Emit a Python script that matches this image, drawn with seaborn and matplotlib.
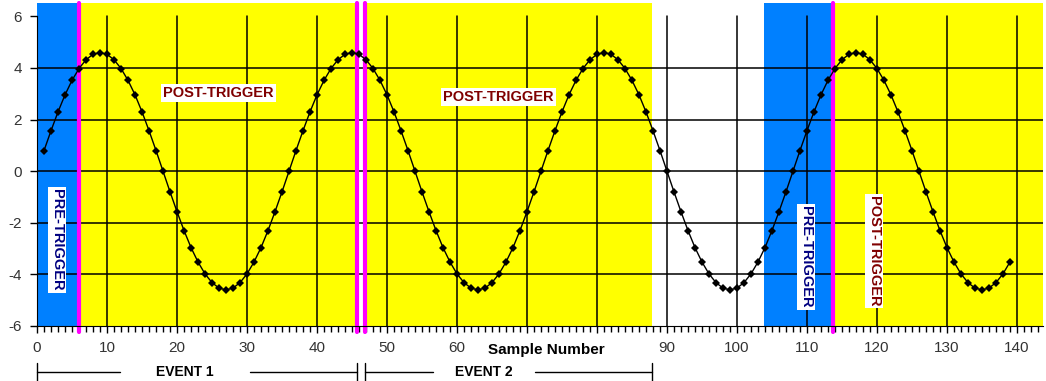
import matplotlib
matplotlib.use("Agg")
import matplotlib.pyplot as plt
import seaborn as sns
import pandas as pd

# ---------------- data ----------------
samples = list(range(1, 140))
values = [
    0.80, 1.57, 2.30, 2.96, 3.52, 3.98, 4.32, 4.53, 4.60, 4.53, 4.32, 3.98,
    3.52, 2.96, 2.30, 1.57, 0.80, 0.00, -0.80, -1.57, -2.30, -2.96, -3.52, -3.98,
    -4.32, -4.53, -4.60, -4.53, -4.32, -3.98, -3.52, -2.96, -2.30, -1.57, -0.80, 0.00,
    0.80, 1.57, 2.30, 2.96, 3.52, 3.98, 4.32, 4.53, 4.60, 4.53, 4.32, 3.98,
    3.52, 2.96, 2.30, 1.57, 0.80, 0.00, -0.80, -1.57, -2.30, -2.96, -3.52, -3.98,
    -4.32, -4.53, -4.60, -4.53, -4.32, -3.98, -3.52, -2.96, -2.30, -1.57, -0.80, 0.00,
    0.80, 1.57, 2.30, 2.96, 3.52, 3.98, 4.32, 4.53, 4.60, 4.53, 4.32, 3.98,
    3.52, 2.96, 2.30, 1.57, 0.80, 0.00, -0.80, -1.57, -2.30, -2.96, -3.52, -3.98,
    -4.32, -4.53, -4.60, -4.53, -4.32, -3.98, -3.52, -2.96, -2.30, -1.57, -0.80, 0.00,
    0.80, 1.57, 2.30, 2.96, 3.52, 3.98, 4.32, 4.53, 4.60, 4.53, 4.32, 3.98,
    3.52, 2.96, 2.30, 1.57, 0.80, 0.00, -0.80, -1.57, -2.30, -2.96, -3.52, -3.98,
    -4.32, -4.53, -4.60, -4.53, -4.32, -3.98, -3.52,
]

x_ticks = [0, 10, 20, 30, 40, 50, 60, 70, 80, 90, 100, 110, 120, 130, 140]
x_tick_labels = ["0", "10", "20", "30", "40", "50", "60", "", "", "90", "100", "110", "120", "130", "140"]
y_ticks = [-6, -4, -2, 0, 2, 4, 6]

pre_spans = [(0, 6), (103.8, 113.7)]
post_spans = [(6, 45.7), (46.9, 87.9), (113.7, 143.7)]
trigger_lines = [6, 45.7, 46.9, 113.7]

post_labels = [(25.9, 3.03, 0), (65.9, 2.88, 0), (119.6, -3.09, 270)]
pre_labels = [(2.9, -2.66), (109.9, -3.32)]

event_names = ["EVENT 1", "EVENT 2"]
event_starts = [0, 46.9]
event_ends = [45.7, 87.9]
event_gap_lo = [11.9, 56.6]
event_gap_hi = [30.4, 71.1]

# ---------------- style ----------------
sns.set_style("white")
plt.rcParams["font.family"] = ["Liberation Sans", "DejaVu Sans"]
plt.rcParams["axes.unicode_minus"] = False
narrow = ["Liberation Sans Narrow", "Liberation Sans", "DejaVu Sans"]

BLUE = "#0080FF"
YELLOW = "#FFFF00"
MAGENTA = "#FF00FF"

fig = plt.figure(figsize=(10.46, 3.81), dpi=100)
ax = fig.add_axes([0.0354, 0.1444, 0.9616, 0.8478])
ax.set_xlim(0, 143.7)
ax.set_ylim(-6, 6.52)

for a, b in pre_spans:
    ax.axvspan(a, b, color=BLUE, lw=0, zorder=0)
for a, b in post_spans:
    ax.axvspan(a, b, color=YELLOW, lw=0, zorder=0)

# grid lines
for xv in x_ticks[1:]:
    ax.plot([xv, xv], [-6, 6], color="black", lw=1.1, zorder=1)
for yv in y_ticks[1:-1]:
    ax.axhline(yv, color="black", lw=1.1, zorder=1)

for xv in trigger_lines:
    ax.axvline(xv, ymin=-0.02, ymax=1, color=MAGENTA, lw=3, zorder=2, clip_on=False)

df = pd.DataFrame({"Sample": samples, "Value": values})
sns.lineplot(data=df, x="Sample", y="Value", ax=ax, color="black", lw=1.0,
             marker="D", markersize=3.8, markeredgewidth=0, zorder=3)

box = dict(facecolor="white", edgecolor="none", pad=1.5)
for xv, yv, rot in post_labels:
    ax.text(xv, yv, "POST-TRIGGER", rotation=rot, ha="center", va="center",
            color="#800000", fontsize=10.5, fontweight="bold", family=narrow,
            bbox=box, zorder=4)
for xv, yv in pre_labels:
    ax.text(xv, yv, "PRE-TRIGGER", rotation=270, ha="center", va="center",
            color="#000080", fontsize=10.5, fontweight="bold", family=narrow,
            bbox=box, zorder=4)

# axes
ax.set_xticks(x_ticks)
ax.set_xticklabels(x_tick_labels)
ax.set_xticks(list(range(0, 144)), minor=True)
ax.set_yticks(y_ticks)
ax.tick_params(axis="both", which="major", direction="out", length=5, width=1,
               color="black", labelsize=11, labelcolor="#333333", pad=6)
ax.tick_params(axis="x", which="minor", direction="out", length=4, width=1, color="black", bottom=True)
ax.tick_params(axis="y", left=True)
ax.tick_params(axis="x", bottom=True)
for s in ["top", "right"]:
    ax.spines[s].set_visible(False)
ax.spines["left"].set_color("black")
ax.spines["bottom"].set_color("black")
ax.spines["left"].set_bounds(-6, 6)
ax.set_xlabel("")
ax.set_ylabel("")

trans = ax.get_xaxis_transform()
ax.text(72.8, -0.074, "Sample Number", transform=trans, ha="center", va="center",
        fontsize=11, fontweight="bold", family=narrow, color="black")

ev_y = -0.142
for name, s, e, glo, ghi in zip(event_names, event_starts, event_ends, event_gap_lo, event_gap_hi):
    kw = dict(transform=trans, color="black", lw=1, clip_on=False)
    ax.plot([s, glo], [ev_y, ev_y], **kw)
    ax.plot([ghi, e], [ev_y, ev_y], **kw)
    ax.plot([s, s], [ev_y - 0.027, ev_y + 0.027], **kw)
    ax.plot([e, e], [ev_y - 0.027, ev_y + 0.027], **kw)
    ax.text((glo + ghi) / 2, ev_y, name, transform=trans, ha="center", va="center",
            fontsize=10, fontweight="bold", family=narrow, color="black")

fig.savefig("out.png", dpi=100)
